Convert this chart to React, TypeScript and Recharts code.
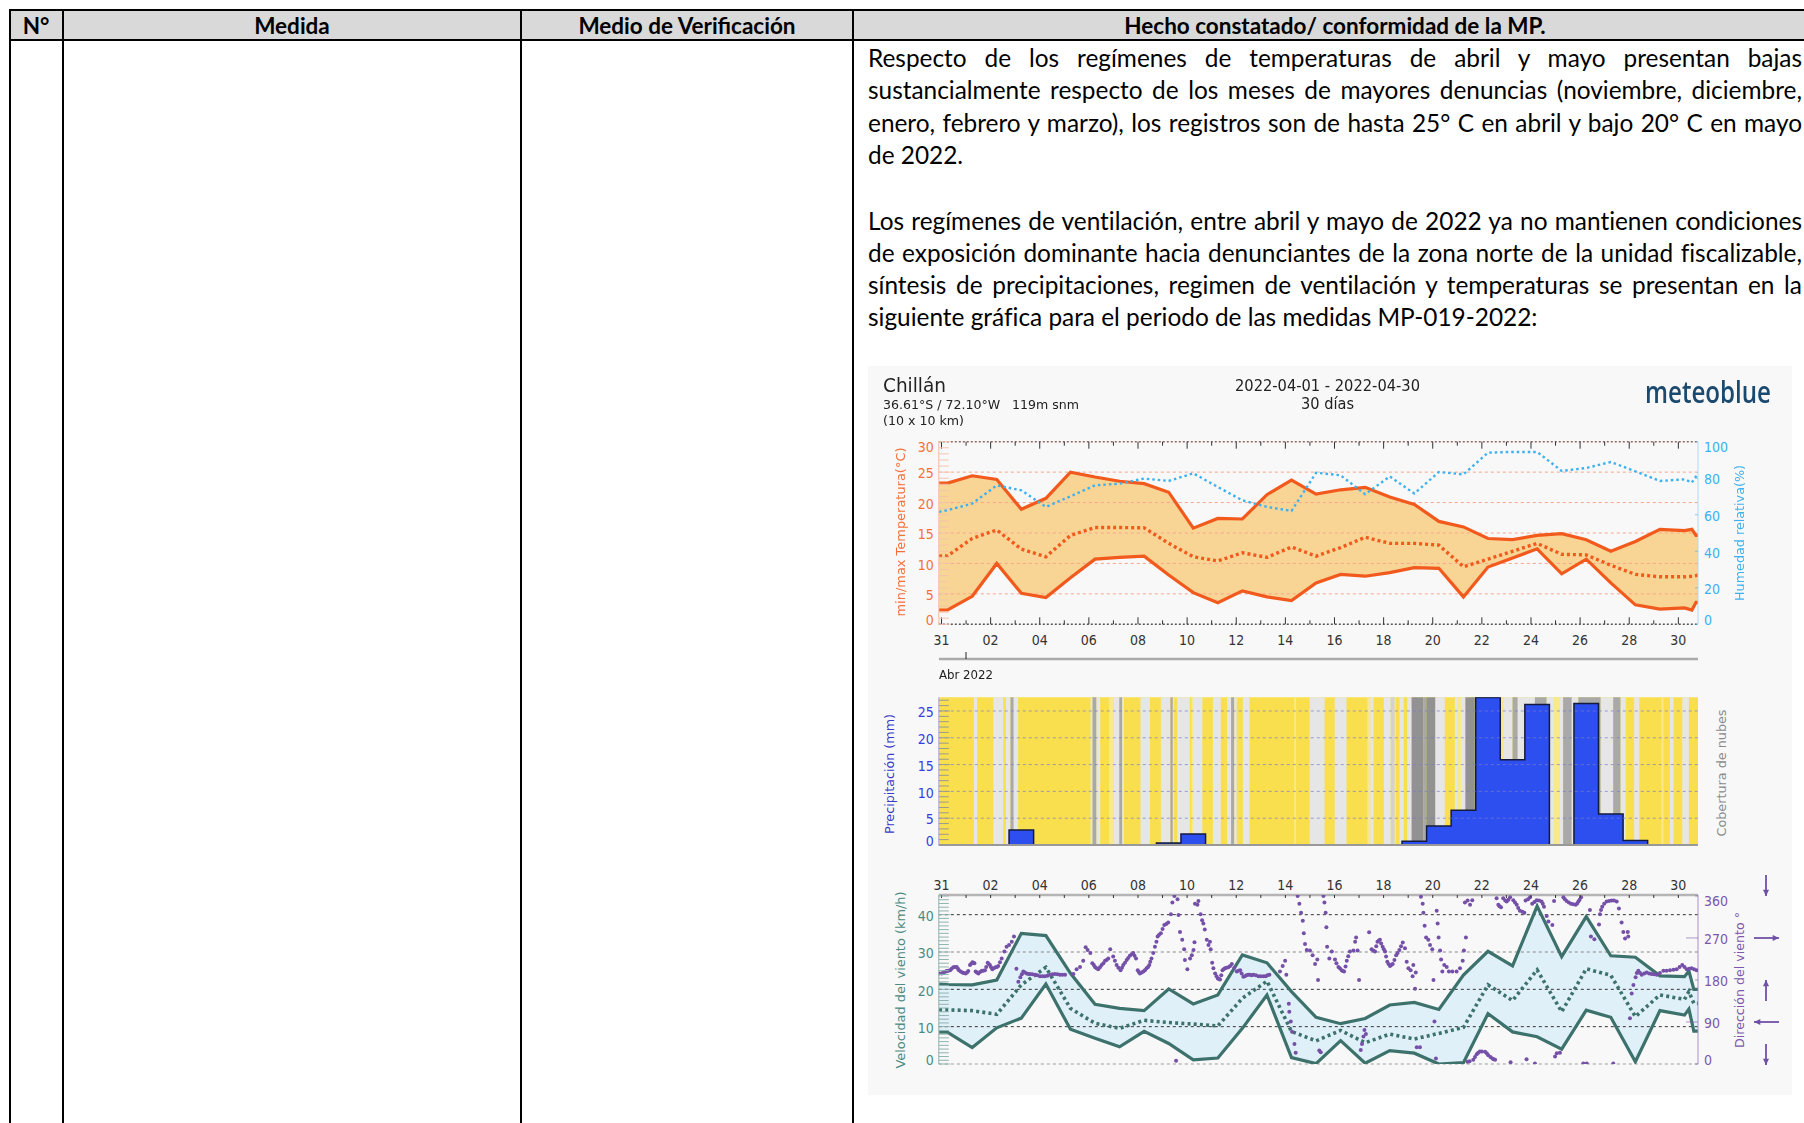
import {
  Area,
  ComposedChart,
  Line,
  ReferenceArea,
  ReferenceLine,
  Scatter,
  XAxis,
  YAxis,
} from 'recharts';

const headerCells = [
  { text: 'N°', center: 36 },
  { text: 'Medida', center: 292 },
  { text: 'Medio de Verificación', center: 687 },
  { text: 'Hecho constatado/ conformidad de la MP.', center: 1335 },
];
const columnLines = [10, 63, 521, 853];

const paragraphLines = [
  { text: 'Respecto de los regímenes de temperaturas de abril y mayo presentan bajas', top: 58.3, full: true },
  { text: 'sustancialmente respecto de los meses de mayores denuncias (noviembre, diciembre,', top: 90.3, full: true },
  { text: 'enero, febrero y marzo), los registros son de hasta 25° C en abril y bajo 20° C en mayo', top: 122.8, full: true },
  { text: 'de 2022.', top: 155.3, full: false },
  { text: 'Los regímenes de ventilación, entre abril y mayo de 2022 ya no mantienen condiciones', top: 220.8, full: true },
  { text: 'de exposición dominante hacia denunciantes de la zona norte de la unidad fiscalizable,', top: 252.8, full: true },
  { text: 'síntesis de precipitaciones, regimen de ventilación y temperaturas se presentan en la', top: 284.8, full: true },
  { text: 'siguiente gráfica para el periodo de las medidas MP-019-2022:', top: 316.8, full: false },
];

// day 0 is the "31" tick, day 1 is 1 April
const dayTicks = Array.from({ length: 31 }, (_, i) => i);
const dayLabels = ['31', '01', '02', '03', '04', '05', '06', '07', '08', '09', '10', '11', '12', '13', '14', '15', '16', '17', '18', '19', '20', '21', '22', '23', '24', '25', '26', '27', '28', '29', '30'];
const dailyPositions = [1.25, 2.25, 3.25, 4.25, 5.25, 6.25, 7.25, 8.25, 9.25, 10.25, 11.25, 12.25, 13.25, 14.25, 15.25, 16.25, 17.25, 18.25, 19.25, 20.25, 21.25, 22.25, 23.25, 24.25, 25.25, 26.25, 27.25, 28.25, 29.25, 30.25];

const tempDays = [-0.1, 0.25, ...dailyPositions, 30.55, 30.72, 30.8];
const tempMax = [23.2, 23.2, 24.4, 23.8, 18.9, 20.7, 25.0, 24.2, 23.5, 23.1, 21.7, 15.8, 17.4, 17.3, 21.3, 23.7, 21.4, 22.1, 22.5, 20.9, 19.7, 16.9, 16.0, 14.1, 13.9, 14.6, 14.9, 13.9, 12.0, 13.6, 15.6, 15.4, 15.6, 14.6, 14.6];
const tempMin = [2.35, 2.35, 4.6, 10.0, 5.1, 4.4, 7.65, 10.7, 11.0, 11.2, 8.1, 5.2, 3.55, 5.5, 4.5, 3.9, 6.8, 8.2, 7.9, 8.5, 9.3, 9.2, 4.5, 9.4, 10.9, 12.4, 8.3, 10.7, 6.8, 3.2, 2.5, 2.7, 2.35, 3.6, 3.6];
const tempMean = [11.2, 11.25, 14.1, 15.5, 12.35, 11.1, 14.6, 15.9, 15.9, 15.85, 13.3, 11.1, 10.4, 11.75, 11, 12.7, 11.2, 12.6, 14.3, 13.3, 13.3, 13, 9.45, 10.7, 12, 13.3, 11.5, 11.4, 9.7, 8.2, 7.8, 7.8, 7.9, 8.0, 8.1];
const humidity = [61.6, 62.5, 66.1, 76.1, 73.4, 64.3, 70.1, 76.1, 77, 79.8, 78.5, 82.7, 75.2, 67.9, 64.3, 62.1, 83, 81.6, 71.2, 81, 71.6, 83.4, 82.1, 94, 94.4, 94.4, 84, 85.6, 88.9, 83.8, 78.5, 79.4, 77.6, 81, 83];

// left edge of each daily rain step, the last entry closes the stairs
const precipEdges = [-0.25, 0.75, 1.75, 2.75, 3.75, 4.75, 5.75, 6.75, 7.75, 8.75, 9.75, 10.75, 11.75, 12.75, 13.75, 14.75, 15.75, 16.75, 17.75, 18.75, 19.75, 20.75, 21.75, 22.75, 23.75, 24.75, 25.75, 26.75, 27.75, 28.75, 29.75, 30.75];
const precipitation = [0, 0, 0, 2.8, 0, 0, 0, 0, 0, 0.35, 2.05, 0, 0, 0, 0, 0, 0, 0, 0, 0.7, 3.55, 6.5, 27.5, 15.9, 26.2, 0, 26.4, 5.8, 0.85, 0, 0, 0];

// start day, end day, cloud level (1 light, 2 mid, 3 dark, 4 pale yellow, 5 soft grey)
const cloudBands = [
  [1.32, 1.45, 1], [2.11, 2.51, 1], [2.62, 2.81, 1], [2.81, 2.94, 2], [2.94, 3.12, 1],
  [6.07, 6.15, 1], [6.15, 6.31, 2], [6.31, 6.46, 1], [6.82, 7.02, 4], [7.02, 7.24, 1], [7.24, 7.36, 2], [7.36, 7.43, 1],
  [8.1, 8.49, 1], [8.93, 9.32, 1], [9.32, 9.42, 2], [9.42, 9.47, 1], [9.6, 10.11, 1],
  [10.18, 10.24, 4], [10.24, 10.62, 1], [11.05, 11.37, 1], [11.63, 11.79, 1], [11.79, 11.92, 2], [11.92, 12.02, 1],
  [12.27, 12.54, 1], [14.36, 14.43, 4], [14.99, 15.6, 1], [16.01, 16.49, 1], [17.34, 17.46, 4], [17.46, 17.59, 1],
  [18.01, 18.29, 1], [18.29, 18.45, 5], [18.45, 18.49, 1], [18.65, 18.82, 1], [18.96, 19.14, 1],
  [19.14, 19.61, 3], [19.61, 19.74, 2], [19.74, 20.11, 3], [20.11, 20.49, 1],
  [20.9, 21.0, 1], [21.0, 21.15, 4], [21.15, 21.33, 1], [21.33, 21.7, 3], [21.7, 22.71, 3],
  [22.71, 22.8, 1], [22.8, 22.89, 4], [22.89, 23.25, 1], [23.25, 23.46, 2], [23.46, 24.16, 1], [24.16, 24.64, 2],
  [24.64, 24.95, 1], [24.95, 25.18, 4], [25.18, 25.31, 1], [25.31, 25.66, 2], [25.66, 25.93, 1], [25.93, 26.84, 2],
  [26.84, 27.35, 1], [27.35, 27.65, 2], [27.65, 27.86, 1], [28.2, 28.41, 1], [29.31, 29.39, 4], [29.66, 29.8, 1], [30.16, 30.43, 1],
];
const cloudColors = ['#f9df4d', '#e6e6e6', '#a9a9a9', '#929292', '#f8ea8c', '#d2d2d2'];

const windDays = [-0.1, 0.25, ...dailyPositions, 30.43, 30.63, 30.8];
const windMax = [21.4, 21.3, 21.2, 22.5, 35, 34.4, 24.3, 16, 14.9, 14.3, 20.1, 16.1, 18.5, 29.2, 27.1, 19.4, 12.5, 10.8, 12.2, 15.8, 16.5, 14.6, 23.8, 30.2, 26.3, 42.3, 28.75, 39.5, 29, 28.6, 23.6, 23.4, 24.9, 20, 20];
const windMin = [8.5, 8.5, 4.4, 9.7, 12.3, 21.4, 9.3, 6.9, 4.6, 8.75, 5.5, 1.1, 1.6, 9.55, 18.5, 1.7, 0.1, 6.25, 0.2, 3.6, 2.9, 0, 0.35, 13.5, 8.6, 7.3, 4, 14.4, 12.5, 0.6, 14.3, 13.1, 14.7, 8.8, 8.8];
const windMean = [14.5, 14.5, 14.3, 13.3, 21.2, 25.9, 14.9, 10.9, 9.55, 11.7, 11.1, 10.7, 10.2, 17.6, 22.2, 8.7, 6.2, 9, 5.7, 8, 6.7, 8.2, 9.8, 21.2, 17, 25.2, 14, 25.5, 23.75, 12.7, 18.5, 17.3, 19.4, 16.25, 16.25];

// day, wind direction in degrees
const windDirection = [
  [-0.1, 194], [0.01, 194], [0.12, 197], [0.22, 199], [0.35, 201], [0.48, 207], [0.62, 208], [0.71, 201], [0.85, 196], [0.98, 194],
  [1.09, 199], [1.16, 212], [1.26, 218], [1.34, 216], [1.39, 198], [1.5, 194], [1.64, 200], [1.77, 201], [1.88, 217], [1.97, 212],
  [2.07, 203], [2.2, 207], [2.31, 210], [2.45, 226], [2.56, 241], [2.65, 251], [2.75, 255], [2.86, 262], [2.95, 273], [3.05, 204],
  [3.13, 176], [3.21, 186], [3.33, 198], [3.47, 194], [3.6, 193], [3.81, 191], [4.01, 188], [4.21, 188], [4.42, 191], [4.62, 193],
  [4.82, 191], [5.03, 191], [5.37, 193], [5.5, 203], [5.64, 208], [5.77, 221], [5.87, 250], [5.95, 244], [6.06, 238], [6.14, 216],
  [6.25, 208], [6.38, 203], [6.52, 212], [6.66, 221], [6.79, 226], [6.87, 246], [6.99, 230], [7.13, 212], [7.29, 201], [7.4, 212],
  [7.54, 223], [7.67, 232], [7.81, 238], [7.92, 226], [7.99, 201], [8.08, 194], [8.22, 198], [8.35, 205], [8.46, 212], [8.55, 226],
  [8.69, 251], [8.8, 273], [8.93, 280], [9.07, 298], [9.23, 303], [9.34, 321], [9.4, 346], [9.48, 360], [9.61, 353], [9.65, 319],
  [9.71, 283], [9.8, 266], [9.88, 246], [9.91, 223], [10.01, 203], [9.55, 7],
  [10.12, 226], [10.19, 233], [10.26, 244], [10.3, 261], [10.32, 343], [10.42, 341], [10.46, 349], [10.55, 321], [10.61, 308], [10.66, 301],
  [10.72, 288], [10.8, 266], [10.87, 255], [10.93, 262], [10.96, 246], [11.02, 217], [11.07, 205], [11.14, 194], [11.25, 183], [11.34, 181],
  [11.44, 201], [11.54, 205], [11.68, 207], [11.82, 214], [12.02, 198], [12.16, 201], [12.29, 187], [12.49, 191], [12.7, 191], [12.9, 188],
  [13.11, 188], [13.35, 191], [13.78, 198], [13.89, 210], [13.99, 221], [14.04, 191], [14.14, 129], [14.16, 112], [14.22, 91], [14.27, 69],
  [14.37, 43], [14.42, 24], [14.5, 360], [14.57, 343], [14.64, 324], [14.71, 307], [14.75, 280], [14.8, 257], [14.87, 244], [15.0, 243],
  [15.11, 233], [15.21, 214], [15.3, 224], [15.33, 180], [15.38, 29], [15.44, 25], [15.55, 360], [15.59, 346], [15.64, 324], [15.67, 293],
  [15.7, 251], [15.79, 226], [15.89, 241], [16.02, 224], [16.16, 208], [16.29, 201], [16.39, 198], [16.5, 221], [16.63, 241], [16.77, 243],
  [16.84, 262], [16.88, 271], [16.94, 243], [17.0, 180], [17.07, 30], [17.12, 43], [17.18, 59], [17.22, 73], [17.28, 64], [17.41, 282],
  [17.51, 246], [17.65, 241], [17.75, 262], [17.85, 266], [17.96, 251], [18.06, 241], [18.15, 219], [18.26, 210], [18.37, 214], [18.51, 233],
  [18.64, 244], [18.78, 260], [18.87, 248], [18.94, 219], [19.01, 205], [19.1, 201], [19.18, 188], [19.21, 212], [19.31, 196], [19.28, 161],
  [19.35, 36], [19.48, 36], [19.52, 358], [19.59, 343], [19.62, 324], [19.67, 296], [19.73, 271], [19.82, 266], [19.89, 255], [19.98, 246],
  [20.03, 180], [20.07, 91], [20.13, 12], [20.16, 328], [20.2, 301], [20.24, 271], [20.3, 243], [20.34, 224], [20.39, 198], [20.47, 212],
  [20.57, 208], [20.66, 198], [20.8, 198], [20.97, 198], [21.11, 205], [21.22, 221], [21.27, 243], [21.35, 271], [21.31, 346], [21.42, 350],
  [21.52, 341], [21.61, 351], [21.42, 5], [21.65, 9], [21.79, 21], [21.92, 27], [22.13, 26], [22.26, 19], [22.43, 12], [22.54, 9],
  [22.6, 355], [22.67, 341], [22.78, 336], [22.87, 355], [23.01, 348], [23.15, 357], [23.17, 4], [23.28, 351], [23.42, 341], [23.55, 328],
  [23.73, 324], [23.78, 350], [23.82, 10], [23.96, 357], [24.05, 343], [24.16, 1], [24.23, 351], [24.43, 348], [24.53, 337], [24.64, 317],
  [24.71, 305], [24.87, 298], [24.94, 349], [24.98, 16], [25.05, 23], [25.18, 24], [25.32, 357], [25.45, 349], [25.63, 343], [25.82, 341],
  [25.93, 348], [26.04, 357], [26.13, 1], [26.27, 1], [26.4, 330], [26.44, 273], [26.58, 267], [26.77, 299], [26.81, 321], [26.9, 337],
  [27.08, 348], [27.28, 350], [27.35, 1], [27.49, 348], [27.58, 333], [27.69, 303], [27.76, 283], [27.83, 269], [27.94, 283], [27.96, 273],
  [28.03, 98], [28.1, 151], [28.17, 169], [28.26, 186], [28.37, 200], [28.51, 191], [28.71, 196], [28.91, 193], [29.12, 191], [29.39, 200],
  [29.66, 201], [29.93, 203], [30.16, 212], [30.34, 203], [30.54, 205], [30.74, 201],
  // stretches where the dots run together
  [0.06, 195], [0.17, 198], [0.28, 200], [0.41, 204], [0.55, 208], [0.67, 204], [0.78, 198], [0.91, 195], [1.04, 196], [1.21, 215],
  [1.3, 217], [1.44, 196], [1.57, 197], [1.7, 200], [1.82, 208], [1.92, 214], [2.02, 207], [2.13, 205], [2.26, 208], [2.38, 218],
  [3.27, 192], [3.4, 196], [3.54, 193], [3.7, 192], [3.9, 190], [4.11, 188], [4.31, 189], [4.52, 192], [4.72, 192], [4.92, 191],
  [6.2, 212], [6.31, 205], [6.45, 207], [6.59, 216], [6.72, 223], [7.06, 221], [7.2, 206], [7.35, 206], [7.47, 217], [7.6, 227],
  [7.74, 235], [7.86, 232], [8.03, 197], [8.15, 196], [8.28, 201], [8.41, 208], [8.5, 219], [8.62, 238], [8.75, 262], [8.86, 277],
  [9.0, 289], [9.15, 300], [11.2, 188], [11.3, 182], [11.39, 190], [11.49, 203], [11.6, 206], [11.75, 210], [11.92, 206], [12.09, 200],
  [12.22, 194], [12.35, 188], [12.42, 190], [12.56, 191], [12.63, 190], [12.8, 190], [13.0, 188], [13.2, 188], [13.27, 190],
  [16.08, 216], [16.22, 205], [16.34, 199], [16.45, 209], [16.56, 231], [17.58, 243], [17.7, 252], [17.8, 264], [17.9, 258], [18.01, 246],
  [18.1, 230], [18.2, 214], [18.31, 212], [18.44, 223], [18.57, 238], [18.71, 252], [21.5, 6], [21.72, 15], [21.85, 24], [22.0, 27],
  [22.2, 23], [22.35, 15], [22.48, 10], [22.72, 338], [22.95, 350], [23.08, 352], [23.35, 346], [23.48, 334], [23.65, 326], [23.88, 353],
  [24.14, 347], [24.33, 350], [24.48, 343], [25.38, 353], [25.54, 346], [25.72, 342], [25.88, 344], [25.98, 352], [26.85, 330], [26.98, 343],
  [27.18, 349], [27.38, 350], [28.31, 195], [28.44, 195], [28.61, 194], [28.81, 194], [29.01, 192], [29.25, 195], [29.52, 200], [29.8, 202],
  [30.05, 208], [30.25, 208], [30.44, 204], [30.64, 203],
];

const tempTicks = Array.from({ length: 31 }, (_, i) => i);
const tempGrid = [5, 10, 15, 20, 25];
const humidityTicks = [0, 20, 40, 60, 80, 100];
const precipTicks = Array.from({ length: 28 }, (_, i) => i);
const precipGrid = [5, 10, 15, 20, 25];
const windTicks = Array.from({ length: 46 }, (_, i) => i);
const windGrid = [10, 20, 30, 40];
const directionTicks = [0, 90, 180, 270, 360];

const tempTable = tempDays.map((day, i) => ({
  day,
  max: tempMax[i],
  min: tempMin[i],
  mean: tempMean[i],
  hum: humidity[i],
  band: [tempMin[i], tempMax[i]],
}));
const precipTable = precipEdges.map((day, i) => ({ day, rain: precipitation[i] }));
const windTable = windDays.map((day, i) => ({
  day,
  max: windMax[i],
  min: windMin[i],
  mean: windMean[i],
  band: [windMin[i], windMax[i]],
}));
const directionTable = windDirection.map(([day, dir]) => ({ day, dir }));

const CHART_FONT = '"DejaVu Sans Condensed", "DejaVu Sans", sans-serif';
const TICK_SIZE = 14;
const DAY_DOMAIN: [number, number] = [-0.11, 30.8];

function leftTick(color: string, tickColor: string, step: number, top: number) {
  return (props: any) => {
    const { x, y, payload } = props;
    const v = payload.value;
    let offset = 1.2;
    if (v === 0) offset = -4.5;
    if (v === top) offset = 5;
    const major = v % step === 0;
    return (
      <g>
        <line x1={x} x2={x + (major ? 11 : 10)} y1={y} y2={y} stroke={tickColor} strokeWidth={1} />
        {major && (
          <text x={x - 5} y={y + offset} dy="0.36em" textAnchor="end" fontSize={TICK_SIZE} fontFamily={CHART_FONT} fill={color}>
            {v}
          </text>
        )}
      </g>
    );
  };
}

function rightTick(color: string, top: number, longTicks: number[]) {
  return (props: any) => {
    const { x, y, payload } = props;
    const v = payload.value;
    let offset = 1.2;
    if (v === 0) offset = -4.5;
    if (v === top) offset = 5.5;
    const len = longTicks.includes(v) ? 12 : 3;
    return (
      <g>
        <line x1={x} x2={x - len} y1={y} y2={y} stroke={color} strokeOpacity={0.6} strokeWidth={1} />
        <text x={x + 6} y={y + offset} dy="0.36em" textAnchor="start" fontSize={TICK_SIZE} fontFamily={CHART_FONT} fill={color}>
          {v}
        </text>
      </g>
    );
  };
}

// bottom axis of the temperature panel: ticks go up into the plot, labels below
function bottomDayTick(props: any) {
  const { x, y, payload } = props;
  const v = payload.value;
  return (
    <g>
      <line x1={x} x2={x} y1={y} y2={y - (v % 2 === 0 ? 7 : 4)} stroke="#333" strokeWidth={1} />
      {v % 2 === 0 && (
        <text x={x} y={y + 16} dy="0.36em" textAnchor="middle" fontSize={TICK_SIZE} fontFamily={CHART_FONT} fill="#333">
          {dayLabels[v]}
        </text>
      )}
    </g>
  );
}

function topMarkTick(props: any) {
  const { x, y, payload } = props;
  return <line x1={x} x2={x} y1={y} y2={y + (payload.value % 2 === 0 ? 7 : 4)} stroke="#333" strokeWidth={1} />;
}

function windTopTick(props: any) {
  const { x, y, payload } = props;
  const v = payload.value;
  return (
    <g>
      <line x1={x} x2={x} y1={y} y2={y + 3} stroke="#333" strokeWidth={1} />
      {v % 2 === 0 && (
        <text x={x} y={y - 10} dy="0.36em" textAnchor="middle" fontSize={TICK_SIZE} fontFamily={CHART_FONT} fill="#333">
          {dayLabels[v]}
        </text>
      )}
    </g>
  );
}

function TemperaturePanel() {
  return (
    <ComposedChart width={924} height={225} data={tempTable} margin={{ top: 10.7, right: 0, bottom: 0, left: 0 }}>
      <XAxis xAxisId="top" orientation="top" type="number" dataKey="day" domain={DAY_DOMAIN} allowDataOverflow ticks={dayTicks} interval={0} height={6} tick={topMarkTick} tickSize={0} tickMargin={0} tickLine={false} axisLine={false} />
      <XAxis type="number" dataKey="day" domain={DAY_DOMAIN} allowDataOverflow ticks={dayTicks} interval={0} height={25.7} tick={bottomDayTick} tickSize={0} tickMargin={0} tickLine={false} axisLine={false} />
      <YAxis type="number" domain={[0, 30]} allowDataOverflow ticks={tempTicks} interval={0} width={70.8} tick={leftTick('#f4713a', '#f7c3aa', 5, 30)} tickSize={0} tickMargin={0} tickLine={false} axisLine={{ stroke: '#f7b9a0' }} />
      <YAxis yAxisId="hum" orientation="right" type="number" domain={[0, 100]} allowDataOverflow ticks={humidityTicks} interval={0} width={94} tick={rightTick('#3db1f0', 100, [])} tickSize={0} tickMargin={0} tickLine={false} axisLine={{ stroke: '#a8dcf8' }} />
      {tempGrid.map((v) => (
        <ReferenceLine key={v} y={v} stroke="#f7a58c" strokeDasharray="3 3" strokeWidth={1} />
      ))}
      <ReferenceLine y={30} stroke="#8a6a60" strokeDasharray="2 2" strokeWidth={1.5} />
      <ReferenceLine y={0} stroke="#555" strokeDasharray="2 2" strokeWidth={1.5} />
      <Area type="linear" dataKey="band" fill="#f8d595" fillOpacity={1} stroke="none" isAnimationActive={false} />
      <Line type="linear" dataKey="max" stroke="#f2591c" strokeWidth={3.2} dot={false} isAnimationActive={false} />
      <Line type="linear" dataKey="min" stroke="#f2591c" strokeWidth={3.2} dot={false} isAnimationActive={false} />
      <Line type="linear" dataKey="mean" stroke="#f2591c" strokeWidth={3.4} strokeDasharray="3 3" dot={false} isAnimationActive={false} />
      <Line yAxisId="hum" type="linear" dataKey="hum" stroke="#3db1f0" strokeWidth={2.4} strokeDasharray="2.5 3" dot={false} isAnimationActive={false} />
    </ComposedChart>
  );
}

function PrecipitationPanel() {
  return (
    <ComposedChart width={924} height={165} data={precipTable} margin={{ top: 12.3, right: 94, bottom: 5, left: 0 }}>
      <XAxis type="number" dataKey="day" domain={DAY_DOMAIN} allowDataOverflow ticks={dayTicks} hide />
      <YAxis type="number" domain={[0, 27.55]} allowDataOverflow ticks={precipTicks} interval={0} width={70.8} tick={leftTick('#3a3ae6', '#9a9a90', 5, -1)} tickSize={0} tickMargin={0} tickLine={false} axisLine={{ stroke: '#a9a9e8' }} />
      <ReferenceArea x1={DAY_DOMAIN[0]} x2={DAY_DOMAIN[1]} fill={cloudColors[0]} fillOpacity={1} stroke="none" />
      {cloudBands.map(([x1, x2, level]) => (
        <ReferenceArea key={x1} x1={x1} x2={x2} fill={cloudColors[level]} fillOpacity={1} stroke="none" />
      ))}
      <Area type="stepAfter" dataKey="rain" fill="#2e4ff0" fillOpacity={1} stroke="#141a3c" strokeWidth={1.5} isAnimationActive={false} />
      {precipGrid.map((v) => (
        <ReferenceLine key={v} y={v} stroke="#7a7ac8" strokeOpacity={0.7} strokeDasharray="3 3" strokeWidth={1} />
      ))}
      <ReferenceLine y={0} stroke="#999" strokeWidth={2} />
    </ComposedChart>
  );
}

function WindPanel() {
  return (
    <ComposedChart width={924} height={200} data={windTable} margin={{ top: 0, right: 0, bottom: 6, left: 0 }}>
      <XAxis orientation="top" type="number" dataKey="day" domain={DAY_DOMAIN} allowDataOverflow ticks={dayTicks} interval={0} height={25} tick={windTopTick} tickSize={0} tickMargin={0} tickLine={false} axisLine={{ stroke: '#b5b5b5', strokeWidth: 2.5 }} />
      <YAxis type="number" domain={[0, 45.27]} allowDataOverflow ticks={windTicks} interval={0} width={70.8} tick={leftTick('#4d8a82', '#8fb3ae', 10, -1)} tickSize={0} tickMargin={0} tickLine={false} axisLine={{ stroke: '#8fb3ae' }} />
      <YAxis yAxisId="dir" orientation="right" type="number" dataKey="dir" domain={[0, 362]} allowDataOverflow ticks={directionTicks} interval={0} width={94} tick={rightTick('#7b57ac', 360, [270, 90])} tickSize={0} tickMargin={0} tickLine={false} axisLine={{ stroke: '#a78fcb' }} />
      <Area type="linear" dataKey="band" fill="#e0f0f9" fillOpacity={1} stroke="none" isAnimationActive={false} />
      {windGrid.map((v) => (
        <ReferenceLine key={v} y={v} stroke={v === 30 ? '#888' : '#333'} strokeDasharray="3 3" strokeWidth={1} />
      ))}
      <ReferenceLine y={0} stroke="#999" strokeDasharray="3 3" strokeWidth={1.2} />
      <Scatter yAxisId="dir" data={directionTable} dataKey="dir" fill="#7550a8" shape={(p: any) => <circle cx={p.cx} cy={p.cy} r={2} fill="#7550a8" />} isAnimationActive={false} />
      <Line type="linear" dataKey="max" stroke="#3d716c" strokeWidth={3.2} dot={false} isAnimationActive={false} />
      <Line type="linear" dataKey="min" stroke="#3d716c" strokeWidth={3.2} dot={false} isAnimationActive={false} />
      <Line type="linear" dataKey="mean" stroke="#3d716c" strokeWidth={3.6} strokeDasharray="3 3.2" dot={false} isAnimationActive={false} />
    </ComposedChart>
  );
}

// rotated panel titles, header texts and the wind direction arrows
const panelTitles = [
  { text: 'min/max Temperatura(°C)', x: 900, y: 532, len: 169, color: '#f4713a' },
  { text: 'Humedad relativa(%)', x: 1739, y: 533, len: 136, color: '#3db1f0' },
  { text: 'Precipitación (mm)', x: 889.6, y: 774, len: 120, color: '#3a3ac8' },
  { text: 'Cobertura de nubes', x: 1721, y: 773, len: 127, color: '#8a8a8a' },
  { text: 'Velocidad del viento (km/h)', x: 900, y: 980, len: 177, color: '#4d8a82' },
  { text: 'Dirección del viento °', x: 1739, y: 980, len: 136, color: '#7b57ac' },
];
const imageTexts = [
  { text: 'Chillán', x: 883, y: 384.5, size: 20, len: 63 },
  { text: '36.61°S / 72.10°W\u00a0\u00a0\u00a0119m snm', x: 883, y: 404.5, size: 13, len: 196 },
  { text: '(10 x 10 km)', x: 883, y: 420.5, size: 13, len: 81 },
  { text: '2022-04-01 - 2022-04-30', x: 1235, y: 386, size: 15, len: 185 },
  { text: '30 días', x: 1301, y: 404, size: 15, len: 53 },
  { text: 'Abr 2022', x: 939, y: 674.5, size: 12.5, len: 54 },
];

function Arrow({ x1, y1, x2, y2 }: { x1: number; y1: number; x2: number; y2: number }) {
  const a = Math.atan2(y2 - y1, x2 - x1);
  const s = 7;
  const p1 = `${x2 - s * Math.cos(a - 0.45)},${y2 - s * Math.sin(a - 0.45)}`;
  const p2 = `${x2 - s * Math.cos(a + 0.45)},${y2 - s * Math.sin(a + 0.45)}`;
  return (
    <g>
      <line x1={x1} y1={y1} x2={x2} y2={y2} stroke="#7050a6" strokeWidth={1.8} />
      <polygon points={`${x2},${y2} ${p1} ${p2}`} fill="#7050a6" />
    </g>
  );
}

function ImageOverlay() {
  return (
    <svg width={1804} height={1123} style={{ position: 'absolute', left: 0, top: 0, pointerEvents: 'none' }}>
      {imageTexts.map((t) => (
        <text key={t.text} x={t.x} y={t.y} dy="0.36em" fontSize={t.size} fontFamily={CHART_FONT} fill="#222" textLength={t.len} lengthAdjust="spacingAndGlyphs">
          {t.text}
        </text>
      ))}
      <text x={1645} y={392} dy="0.36em" fontSize={30} fontWeight={600} fontFamily="'Open Sans', sans-serif" fill="#1c4a6e" textLength={126} lengthAdjust="spacingAndGlyphs">
        meteoblue
      </text>
      {panelTitles.map((t) => (
        <text key={t.text} x={t.x} y={t.y} dy="0.36em" textAnchor="middle" fontSize={13} fontFamily='"DejaVu Sans", sans-serif' fill={t.color} textLength={t.len} lengthAdjust="spacingAndGlyphs" transform={`rotate(-90 ${t.x} ${t.y})`}>
          {t.text}
        </text>
      ))}
      <line x1={939} x2={1698} y1={659} y2={659} stroke="#aaaaaa" strokeWidth={2.5} />
      <line x1={966} x2={966} y1={652} y2={659} stroke="#222" strokeWidth={1} />
      <Arrow x1={1766} y1={875} x2={1766} y2={896} />
      <Arrow x1={1754} y1={938} x2={1779} y2={938} />
      <Arrow x1={1766} y1={1001} x2={1766} y2={980} />
      <Arrow x1={1779} y1={1022} x2={1754} y2={1022} />
      <Arrow x1={1766} y1={1044} x2={1766} y2={1065} />
    </svg>
  );
}

function Table() {
  return (
    <>
      <div style={{ position: 'absolute', left: 10, top: 10, width: 1794, height: 30, background: '#d9d9d9' }} />
      <div style={{ position: 'absolute', left: 10, top: 9, width: 1794, height: 2, background: '#000' }} />
      <div style={{ position: 'absolute', left: 10, top: 39, width: 1794, height: 2, background: '#000' }} />
      {columnLines.map((x) => (
        <div key={x} style={{ position: 'absolute', left: x - 1, top: 9, width: 2, height: 1114, background: '#000' }} />
      ))}
      {headerCells.map((c) => (
        <div key={c.text} style={{ position: 'absolute', left: c.center - 300, width: 600, top: 11.5, height: 28, lineHeight: '28px', textAlign: 'center', fontFamily: 'Lato, sans-serif', fontWeight: 700, fontSize: 22.5, color: '#000' }}>
          {c.text}
        </div>
      ))}
      {paragraphLines.map((l) => (
        <div
          key={l.text}
          style={{
            position: 'absolute',
            left: 868,
            width: l.full ? 934 : 900,
            top: l.top - 16,
            height: 32,
            lineHeight: '32px',
            fontFamily: 'Lato, sans-serif',
            fontSize: 24.4,
            fontVariantLigatures: 'none',
            color: '#000',
            whiteSpace: l.full ? 'normal' : 'nowrap',
            textAlign: 'justify',
            textAlignLast: l.full ? 'justify' : 'left',
          }}
        >
          {l.text}
        </div>
      ))}
    </>
  );
}

export default function App() {
  return (
    <div style={{ position: 'absolute', left: 0, top: 0, width: 1804, height: 1123, overflow: 'hidden', background: '#fff' }}>
      <Table />
      <div style={{ position: 'absolute', left: 0, top: 0, width: 1804, height: 1123, filter: 'blur(0.45px)' }}>
        <div style={{ position: 'absolute', left: 868, top: 366, width: 924, height: 729, background: '#f8f8f8' }} />
        <div style={{ position: 'absolute', left: 868, top: 425 }}>
          <TemperaturePanel />
        </div>
        <div style={{ position: 'absolute', left: 868, top: 685 }}>
          <PrecipitationPanel />
        </div>
        <div style={{ position: 'absolute', left: 868, top: 870 }}>
          <WindPanel />
        </div>
        <ImageOverlay />
      </div>
    </div>
  );
}
